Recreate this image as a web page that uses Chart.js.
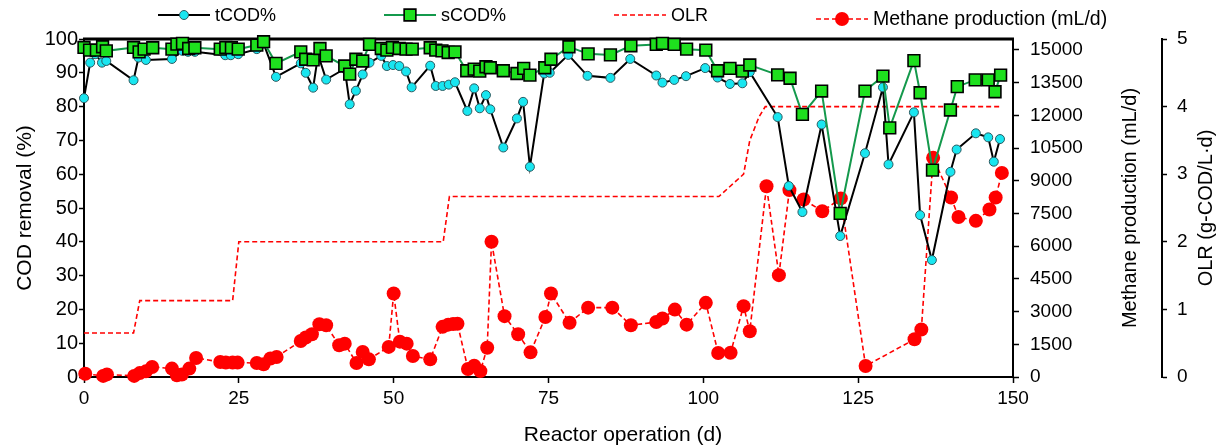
<!DOCTYPE html>
<html lang="en">
<head>
<meta charset="UTF-8" />
<title>COD removal, OLR and methane production</title>
<script src="https://cdn.jsdelivr.net/npm/chart.js@4.4.1/dist/chart.umd.min.js"></script>
<style>
  html, body { margin: 0; padding: 0; background: #fff; }
  canvas { display: block; }
</style>
</head>
<body>
<canvas id="codChart" width="1219" height="448"></canvas>
<script>
// reactor day / value pairs for each series
const tcodDays = [0, 1.0, 1.8, 2.9, 3.6, 8.0, 8.8, 10.0, 14.2, 15.9, 16.8, 17.9, 22.8, 23.7, 24.9,
  27.9, 29.0, 31.0, 35.0, 35.8, 37.0, 37.8, 39.1, 42.1, 42.9, 43.9, 45.0, 46.1, 48.0, 48.9,
  49.9, 50.9, 52.0, 52.9, 55.9, 56.8, 57.9, 58.9, 59.9, 61.9, 63.0, 63.9, 64.9, 65.6, 67.7,
  69.9, 70.9, 72.0, 74.3, 75.2, 78.2, 81.3, 85.0, 88.2, 92.4, 93.4, 95.3, 97.2, 100.3, 102.3,
  104.3, 106.3, 107.5, 112.0, 113.8, 116.0, 119.1, 122.1, 126.1, 129.0, 129.9, 134.0, 135.0,
  136.9, 139.9, 140.9, 144.0, 146.0, 146.9, 147.9];
const tcodValues = [82.5, 93.0, 95.5, 93.0, 93.5, 87.8, 94.5, 93.8, 94.1, 96.5, 96.2, 96.2, 95.2, 95.2, 95.5,
  97.0, 98.6, 88.8, 92.8, 90.0, 85.6, 95.3, 88.0, 91.2, 80.7, 84.7, 89.5, 93.0, 95.0, 92.0,
  92.3, 92.0, 90.4, 85.7, 92.1, 86.1, 86.1, 86.5, 87.2, 78.7, 85.4, 79.5, 83.4, 79.2, 67.9,
  76.5, 81.4, 62.2, 89.8, 90.0, 95.3, 89.1, 88.5, 94.1, 89.2, 87.1, 87.9, 89.0, 91.4, 88.6,
  86.7, 86.9, 90.2, 76.9, 56.5, 48.8, 74.7, 41.7, 66.2, 85.7, 62.9, 78.3, 47.9,
  34.6, 60.7, 67.3, 72.1, 70.9, 63.7, 70.4];

const scodDays = [0, 0.9, 2.0, 3.0, 3.6, 8.0, 8.9, 9.7, 11.1, 14.2, 15.0, 15.9, 16.9, 17.9, 22.0,
  22.9, 23.8, 24.9, 27.9, 29.0, 31.0, 35.0, 35.8, 37.0, 38.1, 39.1, 42.1, 42.9, 43.9, 45.0,
  46.1, 48.0, 48.9, 49.8, 50.9, 52.0, 53.0, 55.9, 56.8, 57.8, 58.8, 59.9, 61.8, 63.0, 63.9,
  64.9, 65.6, 67.7, 69.9, 71.0, 72.0, 74.4, 75.4, 78.3, 81.4, 85.0, 88.3, 92.4, 93.4, 95.3,
  97.3, 100.4, 102.3, 104.3, 106.3, 107.5, 112.0, 114.0, 116.0, 119.1, 122.1, 126.1, 129.0,
  130.1, 134.0, 135.0, 137.0, 139.9, 141.0, 143.9, 146.0, 147.1, 148.0];
const scodValues = [97.5, 96.7, 96.7, 97.7, 96.5, 97.5, 96.2, 97.0, 97.4, 97.0, 98.5, 98.7, 97.2, 97.4, 97.0,
  97.5, 97.4, 97.0, 98.2, 99.2, 92.8, 96.2, 94.0, 93.8, 97.2, 95.0, 92.0, 89.6, 94.0, 93.5,
  98.4, 97.2, 96.7, 97.5, 97.2, 97.0, 97.0, 97.4, 96.7, 96.5, 96.0, 96.2, 90.6, 91.1, 90.5,
  91.8, 91.5, 90.6, 89.8, 91.3, 89.3, 91.5, 94.0, 97.7, 95.6, 95.3, 98.0, 98.4, 98.7, 98.4,
  97.0, 96.7, 90.6, 91.3, 90.5, 92.3, 89.4, 88.4, 77.7, 84.6, 48.4, 84.6, 89.0,
  73.7, 93.6, 84.1, 61.2, 79.0, 85.9, 87.9, 87.9, 84.4, 89.3];

const olrDays = [0, 8, 9, 24, 25, 58, 59, 102.5, 106.5, 107.5, 109, 110, 148];
const olrValues = [0.65, 0.65, 1.13, 1.13, 2.0, 2.0, 2.67, 2.67, 3.0, 3.5, 3.85, 4.0, 4.0];

const methaneDays = [0.2, 3.1, 3.7, 8.1, 9.0, 10.0, 11.0, 14.2, 15.0, 15.8, 17.0, 18.1, 22.0, 22.9,
  24.0, 24.8, 27.9, 29.0, 30.1, 31.1, 35.0, 35.8, 36.8, 38.0, 39.1, 41.2, 42.1, 44.0, 45.0,
  46.0, 49.2, 50.0, 51.0, 52.1, 53.1, 55.9, 57.9, 58.8, 59.6, 60.3, 62.0, 63.0, 64.0, 65.1,
  65.8, 67.9, 70.1, 72.1, 74.5, 75.4, 78.4, 81.4, 85.3, 88.3, 92.4, 93.4, 95.4, 97.3, 100.4,
  102.4, 104.4, 106.5, 107.5, 110.2, 112.2, 113.9, 116.2, 119.2, 122.2, 126.2, 134.1, 135.2,
  137.1, 140.0, 141.2, 144.0, 146.2, 147.2, 148.2];
const methaneValues = [150, 50, 120, 50, 180, 260, 460, 385, 80, 110, 385, 870, 690, 660,
  660, 660, 640, 580, 845, 920, 1650, 1810, 1960, 2420, 2370, 1455, 1530, 640, 1150,
  810, 1380, 3830, 1620, 1530, 960, 810, 2300, 2400, 2430, 2440, 370, 520, 270, 1340,
  6200, 2790, 1960, 1130, 2750, 3830, 2490, 3180, 3180, 2370, 2520, 2680, 3090, 2400, 3400,
  1100, 1110, 3250, 2100, 8750, 4670, 8570, 8140, 7600, 8190, 505, 1730, 2180,
  10050, 8230, 7340, 7160, 7680, 8230, 9360];

const xTicks = [0, 25, 50, 75, 100, 125, 150];
const codTicks = [0, 10, 20, 30, 40, 50, 60, 70, 80, 90, 100];
const methaneTicks = [0, 1500, 3000, 4500, 6000, 7500, 9000, 10500, 12000, 13500, 15000];
const olrTicks = [0, 1, 2, 3, 4, 5];

const FONT = '"Liberation Sans", Arial, sans-serif';
const toPoints = (xs, ys) => xs.map((x, i) => ({ x: x, y: ys[i] }));
const keepTicks = list => scale => { scale.ticks = list.map(v => ({ value: v })); };

// legend row and the two right-hand titles (drawn bottom-to-top like the left one)
const extrasPlugin = {
  id: 'extras',
  beforeDatasetsDraw(chart) {
    const { ctx, chartArea } = chart;
    ctx.save();
    ctx.strokeStyle = '#000';
    ctx.lineWidth = 3;
    ctx.beginPath();
    ctx.moveTo(chartArea.left - 1, chartArea.top);
    ctx.lineTo(chartArea.right + 1, chartArea.top);
    ctx.stroke();
    ctx.restore();
  },
  afterDraw(chart) {
    const ctx = chart.ctx;
    const mid = (chart.chartArea.top + chart.chartArea.bottom) / 2;
    ctx.save();
    ctx.fillStyle = '#000';
    ctx.textAlign = 'center';
    ctx.textBaseline = 'middle';

    ctx.font = '21px ' + FONT;
    ctx.fillText('Reactor operation (d)', 623, 435);

    ctx.font = '20px ' + FONT;
    [['Methane production (mL/d)', 1130], ['OLR (g-COD/L\u00b7d)', 1206]].forEach(([text, x]) => {
      ctx.save();
      ctx.translate(x, mid);
      ctx.rotate(-Math.PI / 2);
      ctx.fillText(text, 0, 0);
      ctx.restore();
    });

    // legend
    ctx.textAlign = 'left';
    let x = 158;
    chart.data.datasets.forEach(ds => {
      const y = ds.legendY;
      ctx.strokeStyle = ds.borderColor;
      ctx.lineWidth = ds.borderWidth;
      ctx.setLineDash(ds.borderDash || []);
      ctx.beginPath();
      ctx.moveTo(x, y);
      ctx.lineTo(x + 52, y);
      ctx.stroke();
      ctx.setLineDash([]);
      const cx = x + 26;
      if (ds.pointRadius > 0) {
        ctx.fillStyle = ds.pointBackgroundColor;
        ctx.strokeStyle = ds.pointBorderColor;
        ctx.lineWidth = ds.pointBorderWidth;
        ctx.beginPath();
        if (ds.pointStyle === 'rect') {
          const h = ds.pointRadius * Math.SQRT1_2;
          ctx.rect(cx - h, y - h, 2 * h, 2 * h);
        } else {
          ctx.arc(cx, y, ds.pointRadius, 0, Math.PI * 2);
        }
        ctx.fill();
        if (ds.pointBorderWidth > 0) ctx.stroke();
      }
      ctx.font = ds.legendFont + 'px ' + FONT;
      ctx.fillStyle = '#000';
      ctx.fillText(ds.label, x + 57, y + 1);
      x += 57 + ctx.measureText(ds.label).width + 108;
    });
    ctx.restore();
  }
};

const tickFont = { family: FONT, size: 19 };
const axisGrid = { drawOnChartArea: false, drawTicks: true, tickLength: 6, color: '#000', tickColor: '#000', tickWidth: 1.5 };
const axisBorder = { color: '#000', width: 2 };

new Chart(document.getElementById('codChart'), {
  type: 'line',
  data: {
    datasets: [
      {
        label: 'tCOD%',
        data: toPoints(tcodDays, tcodValues),
        yAxisID: 'y',
        order: 1,
        borderColor: '#000',
        borderWidth: 2,
        pointRadius: 4.5,
        pointBackgroundColor: '#19e6f0',
        pointBorderColor: '#2c5a60',
        pointBorderWidth: 1,
        legendY: 15,
        legendFont: 18
      },
      {
        label: 'sCOD%',
        data: toPoints(scodDays, scodValues),
        yAxisID: 'y',
        order: 0,
        borderColor: '#14994c',
        borderWidth: 2,
        pointStyle: 'rect',
        pointRadius: 8.3,
        pointBackgroundColor: '#1ee01e',
        pointBorderColor: '#000',
        pointBorderWidth: 1.6,
        legendY: 15,
        legendFont: 18
      },
      {
        label: 'OLR',
        data: toPoints(olrDays, olrValues),
        yAxisID: 'y2',
        order: 3,
        borderColor: '#ff0000',
        borderWidth: 1.6,
        borderDash: [5, 3],
        pointRadius: 0,
        legendY: 15,
        legendFont: 18
      },
      {
        label: 'Methane production (mL/d)',
        data: toPoints(methaneDays, methaneValues),
        yAxisID: 'y1',
        order: 2,
        borderColor: '#ff0000',
        borderWidth: 1.6,
        borderDash: [5, 3],
        pointRadius: 7,
        pointBackgroundColor: '#ff0000',
        pointBorderColor: '#ff0000',
        pointBorderWidth: 0,
        legendY: 19,
        legendFont: 19.5
      }
    ]
  },
  options: {
    responsive: false,
    animation: false,
    clip: false,
    layout: { padding: { top: 39, left: 0, right: 0, bottom: 0 } },
    plugins: { legend: { display: false }, tooltip: { enabled: false } },
    elements: { line: { tension: 0 } },
    scales: {
      x: {
        type: 'linear', min: 0, max: 150,
        afterBuildTicks: keepTicks(xTicks),
        afterFit: s => { s.height = 71; },
        ticks: { font: tickFont, color: '#000', padding: 4 },
        grid: axisGrid, border: axisBorder
      },
      y: {
        position: 'left', min: 0, max: 100,
        afterBuildTicks: keepTicks(codTicks),
        afterFit: s => { s.width = 84; },
        ticks: { font: { family: FONT, size: 20 }, color: '#000', padding: 1 },
        grid: Object.assign({}, axisGrid, { tickLength: 5 }),
        border: axisBorder,
        title: { display: true, text: 'COD removal (%)', color: '#000', font: { family: FONT, size: 21 }, padding: { top: 13, bottom: 0 } }
      },
      y1: {
        position: 'right', min: 0, max: 15500, weight: 0,
        afterBuildTicks: keepTicks(methaneTicks),
        afterFit: s => { s.width = 149; },
        ticks: { font: tickFont, color: '#000', padding: 11, callback: v => String(v) },
        grid: axisGrid, border: axisBorder
      },
      y2: {
        position: 'right', min: 0, max: 5, weight: 1,
        afterBuildTicks: keepTicks(olrTicks),
        afterFit: s => { s.width = 57; },
        ticks: { font: tickFont, color: '#000', padding: 10 },
        grid: Object.assign({}, axisGrid, { tickLength: 5 }),
        border: axisBorder
      }
    }
  },
  plugins: [extrasPlugin]
});
</script>
</body>
</html>
